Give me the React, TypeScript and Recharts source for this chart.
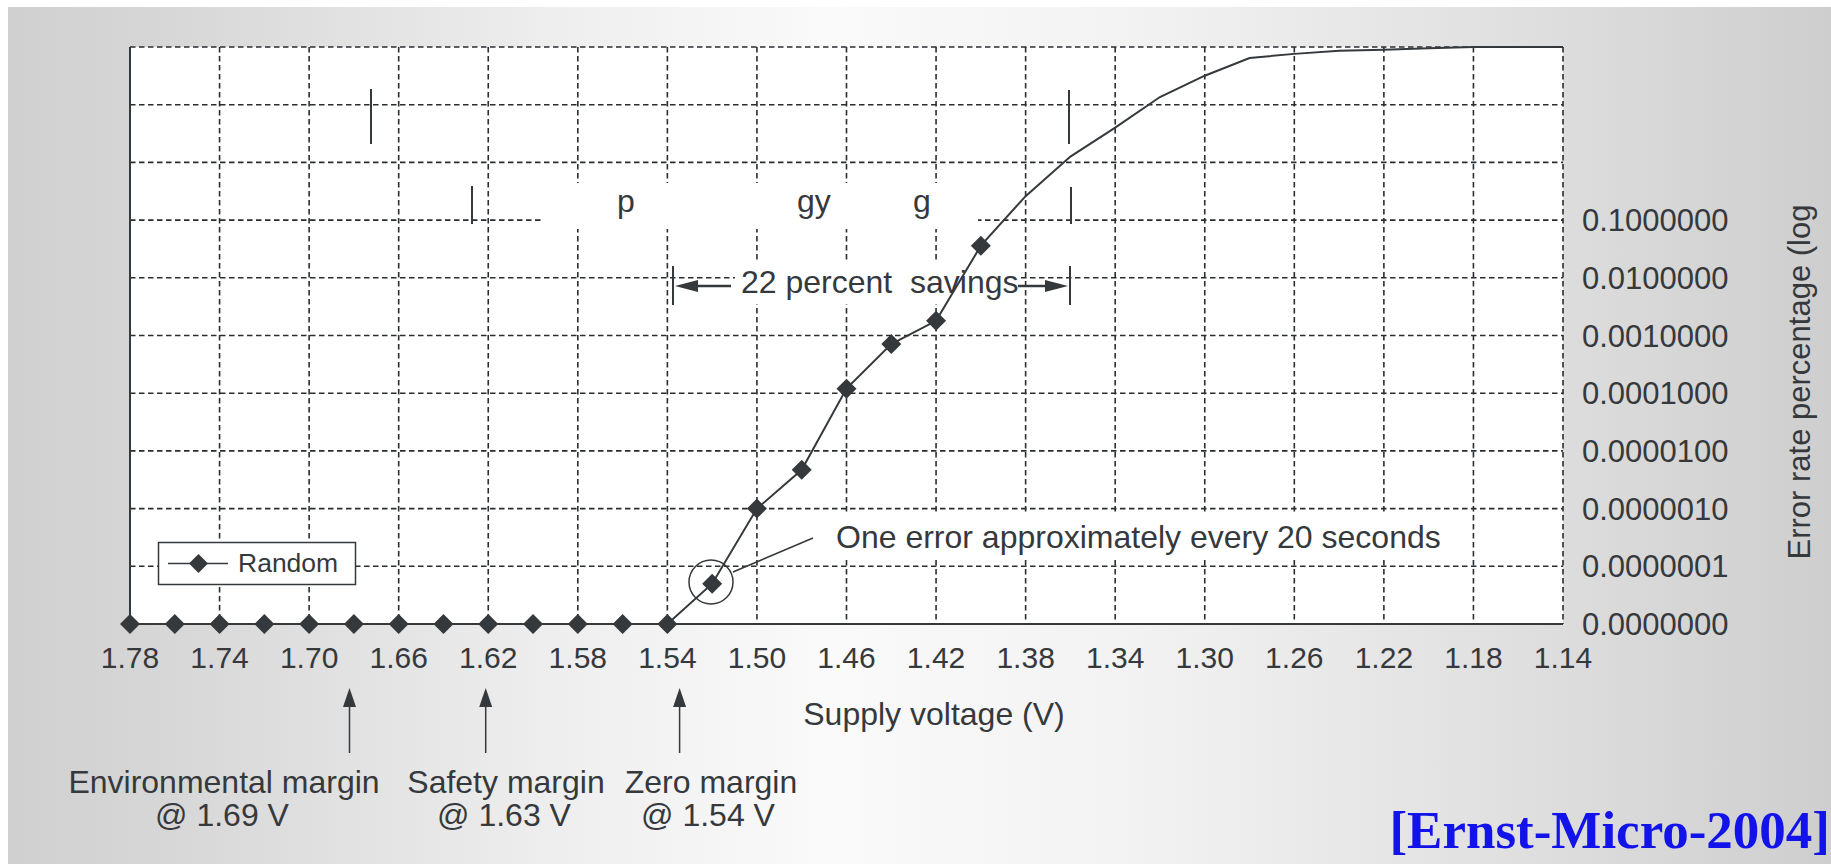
import { CartesianGrid, Line, LineChart, ReferenceLine, XAxis, YAxis } from 'recharts';

// Supply voltage sweep (V), left to right on the chart
const voltages = [
  1.78, 1.76, 1.74, 1.72, 1.7, 1.68, 1.66, 1.64, 1.62, 1.6, 1.58, 1.56, 1.54,
  1.52, 1.5, 1.48, 1.46, 1.44, 1.42, 1.4, 1.38, 1.36, 1.34, 1.32, 1.3, 1.28,
  1.26, 1.24, 1.22, 1.2, 1.18, 1.16, 1.14,
];

// Error rate (%) for the "Random" series. Zero-error points sit on the
// axis floor (1e-8, labelled 0.0000000).
const errorRates = [
  1e-8, 1e-8, 1e-8, 1e-8, 1e-8, 1e-8, 1e-8, 1e-8, 1e-8, 1e-8, 1e-8, 1e-8, 1e-8,
  5e-8, 1e-6, 4.7e-6, 1.2e-4, 7.1e-4, 1.8e-3, 0.036, 0.26, 1.26, 4.0, 13.6, 31.8,
  64.5, 76, 86, 90, 95, 100, 100, 100,
];

// points at or above this voltage carry a diamond marker
const MARKER_MIN_VOLTAGE = 1.4;

const xTicks = [
  1.78, 1.74, 1.7, 1.66, 1.62, 1.58, 1.54, 1.5, 1.46, 1.42, 1.38, 1.34, 1.3,
  1.26, 1.22, 1.18, 1.14,
];
const yTicks = [1e-8, 1e-7, 1e-6, 1e-5, 1e-4, 1e-3, 1e-2, 1e-1, 1, 10, 100];

const INK = '#36393c';
const FONT = '"Liberation Sans", Arial, Helvetica, sans-serif';
const W = 1831;
const H = 864;

const data = voltages.map((v, i) => ({ v, rate: errorRates[i] }));

function DiamondDot(props: any) {
  const { cx, cy, payload, index } = props;
  if (payload.v < MARKER_MIN_VOLTAGE - 1e-9 || cx == null) return <g key={`d${index}`} />;
  const r = 10;
  return (
    <polygon
      key={`d${index}`}
      points={`${cx},${cy - r} ${cx + r},${cy} ${cx},${cy + r} ${cx - r},${cy}`}
      fill={INK}
    />
  );
}

// white patches and labels that sit over the grid but under the curve
function PlotMasks() {
  const txt = { fontFamily: FONT, fill: INK, fontSize: 32 };
  return (
    <g>
      <rect x={542} y={183} width={436} height={46} fill="#fff" />
      <text x={617} y={212} {...txt}>p</text>
      <text x={797} y={212} {...txt}>gy</text>
      <text x={913} y={212} {...txt}>g</text>
      <line x1={371} y1={89} x2={371} y2={144} stroke={INK} strokeWidth={2} />
      <line x1={472} y1={186} x2={472} y2={224} stroke={INK} strokeWidth={2} />
      <line x1={1069} y1={90} x2={1069} y2={144} stroke={INK} strokeWidth={2} />
      <line x1={1071} y1={187} x2={1071} y2={224} stroke={INK} strokeWidth={2} />

      <rect x={735} y={263} width={283} height={41} fill="#fff" />
      <text x={741} y={293} {...txt} style={{ whiteSpace: 'pre' }}>
        22 percent  savings
      </text>
      <line x1={673} y1={266} x2={673} y2={305} stroke={INK} strokeWidth={2} />
      <line x1={1070} y1={266} x2={1070} y2={305} stroke={INK} strokeWidth={2} />
      <polygon points="675,286 698,280 698,292" fill={INK} />
      <line x1={697} y1={286} x2={731} y2={286} stroke={INK} strokeWidth={2.5} />
      <line x1={1018} y1={286} x2={1047} y2={286} stroke={INK} strokeWidth={2.5} />
      <polygon points="1068,286 1045,280 1045,292" fill={INK} />

      <rect x={829} y={513} width={615} height={45} fill="#fff" />
      <text x={836} y={548} {...txt}>One error approximately every 20 seconds</text>
    </g>
  );
}

function Overlay() {
  const t = { fontFamily: FONT, fill: INK, fontSize: 32, textAnchor: 'middle' as const };
  const arrows = [349.5, 485.7, 679.6];
  return (
    <svg
      width={W}
      height={H}
      style={{ position: 'absolute', left: 0, top: 0, pointerEvents: 'none' }}
    >
      {/* circled point and leader */}
      <circle cx={711} cy={582} r={22} fill="none" stroke={INK} strokeWidth={1.5} />
      <line x1={733} y1={572} x2={813} y2={538} stroke={INK} strokeWidth={1.5} />

      {/* legend */}
      <rect x={158.5} y={542.5} width={197} height={42} fill="#fff" stroke={INK} strokeWidth={1.5} />
      <line x1={168} y1={563.5} x2={228} y2={563.5} stroke={INK} strokeWidth={1.5} />
      <polygon points="198.5,554 208,563.5 198.5,573 189,563.5" fill={INK} />
      <text x={238} y={572} fontFamily={FONT} fontSize={26.5} fill={INK}>Random</text>

      {/* margin arrows */}
      {arrows.map((x) => (
        <g key={x}>
          <polygon points={`${x},688 ${x - 6.5},707 ${x + 6.5},707`} fill={INK} />
          <line x1={x} y1={705} x2={x} y2={753} stroke={INK} strokeWidth={1.5} />
        </g>
      ))}
      <text x={224} y={793} {...t}>Environmental margin</text>
      <text x={222} y={826} {...t}>@ 1.69 V</text>
      <text x={506} y={793} {...t}>Safety margin</text>
      <text x={504} y={826} {...t}>@ 1.63 V</text>
      <text x={711} y={793} {...t}>Zero margin</text>
      <text x={708} y={826} {...t}>@ 1.54 V</text>

      <text x={934} y={725} {...t}>Supply voltage (V)</text>
      <text x={1810} y={382} {...t} fontSize={31} transform="rotate(-90 1810 382)">
        Error rate percentage (log
      </text>

      <text
        x={1830}
        y={848}
        textAnchor="end"
        fontFamily='"Liberation Serif", "Times New Roman", serif'
        fontWeight="bold"
        fontSize={53}
        fill="#1212ea"
      >
        [Ernst-Micro-2004]
      </text>
    </svg>
  );
}

export default function App() {
  return (
    <div style={{ position: 'fixed', left: 0, top: 0, width: W, height: H, background: '#fff', overflow: 'hidden' }}>
      <div
        style={{
          position: 'absolute',
          left: 8,
          top: 7,
          right: 0,
          bottom: 0,
          background:
            'linear-gradient(to right, #d0d0d0 0%, #d6d6d6 8%, #eeeeee 30%, #fafafa 45%, #f2f2f2 62%, #e0e0e0 82%, #cecece 100%)',
        }}
      />
      <div style={{ position: 'absolute', left: 0, top: 0 }}>
        <LineChart width={W} height={H} data={data} margin={{ top: 47, right: 68, bottom: 180, left: 130 }}>
          <CartesianGrid
            stroke="#2a2d30"
            strokeWidth={1.6}
            strokeDasharray="5.5 3.5"
            fill="#fff"
            fillOpacity={1}
          />
          <XAxis
            dataKey="v"
            type="number"
            domain={[1.14, 1.78]}
            reversed
            ticks={xTicks}
            interval={0}
            height={60}
            tickFormatter={(v: number) => v.toFixed(2)}
            axisLine={{ stroke: INK, strokeWidth: 2 }}
            tickLine={false}
            tickSize={0}
            tickMargin={23}
            tick={{ fill: INK, fontSize: 30, fontFamily: FONT }}
          />
          <YAxis
            orientation="right"
            scale="log"
            domain={[1e-8, 100]}
            ticks={yTicks}
            interval={0}
            width={200}
            tickFormatter={(v: number) => (v < 1 ? v.toFixed(7) : '')}
            axisLine={false}
            tickLine={false}
            tickSize={0}
            tickMargin={19}
            tick={{ fill: INK, fontSize: 31, fontFamily: FONT }}
          />
          <PlotMasks />
          <ReferenceLine x={1.78} stroke={INK} strokeWidth={2} />
          <Line
            type="linear"
            dataKey="rate"
            stroke={INK}
            strokeWidth={2}
            dot={DiamondDot}
            activeDot={false}
            isAnimationActive={false}
          />
        </LineChart>
      </div>
      <Overlay />
    </div>
  );
}
